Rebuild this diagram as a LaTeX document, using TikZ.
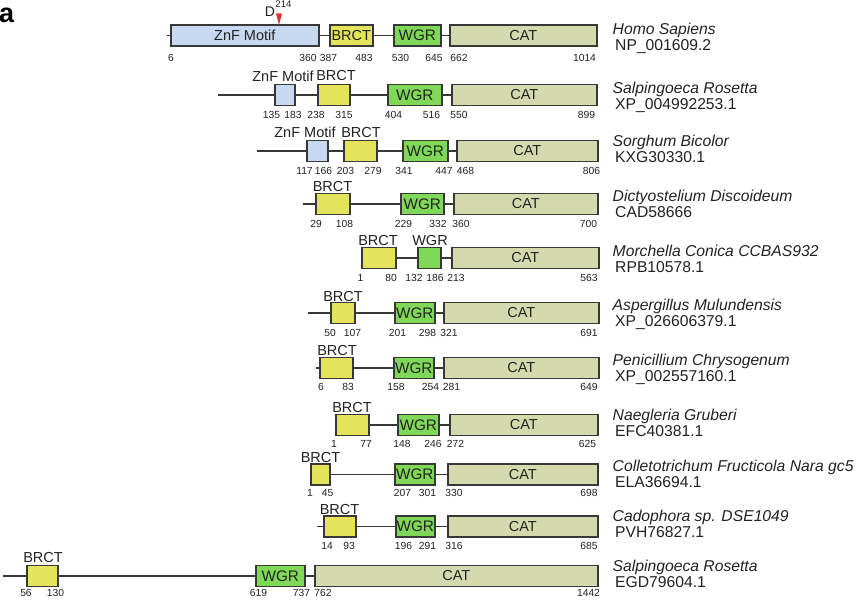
\documentclass[tikz,border=0pt]{standalone}
\usepackage{fontspec}
\setmainfont{Liberation Sans}
\definecolor{bordc}{HTML}{383838}
\definecolor{txt}{HTML}{222222}
\definecolor{znfc}{HTML}{C6D9F1}
\definecolor{brctc}{HTML}{E4E35C}
\definecolor{wgrc}{HTML}{7FD858}
\definecolor{catc}{HTML}{D4DAAE}
\definecolor{markred}{HTML}{E8312F}
\tikzset{
  dom/.style={draw=bordc, line width=1.6pt, inner sep=0pt, minimum height=21pt, anchor=west, text=txt, font=\fontsize{14.5}{16}\selectfont},
  znf/.style={dom, fill=znfc},
  brct/.style={dom, fill=brctc},
  wgr/.style={dom, fill=wgrc, font=\fontsize{15.3}{16}\selectfont},
  cat/.style={dom, fill=catc},
  numlab/.style={font=\fontsize{10.3}{11}\selectfont, text=txt, inner sep=0pt, anchor=center},
  dlab/.style={font=\fontsize{14.5}{16}\selectfont, text=txt, inner sep=0pt, anchor=center},
  splab/.style={font=\fontsize{15.7}{17}\selectfont\itshape, text=txt, inner sep=0pt, anchor=base west},
  acclab/.style={font=\fontsize{15.7}{17}\selectfont, text=txt, inner sep=0pt, anchor=base west},
  conn/.style={draw=bordc, line width=1.5pt},
}
\newcommand\dombox[6]{\node[#2, minimum width={(#4-#3)*1pt}] (#1) at (#3,#5) {#6};}
\newcommand\nlab[4]{\node[numlab] (#1) at (#2,#3) {#4};}
\newcommand\species[5]{\node[splab] (#1n) at (612.5,#3) {#4};\node[acclab] (#1a) at (615,#3+16) {#5};}
\begin{document}
\begin{tikzpicture}[x=1pt,y=-1pt]
\useasboundingbox (0,0) rectangle (860,610);
\node[font=\fontsize{27}{30}\selectfont\bfseries, inner sep=0pt, anchor=base west] (panel) at (-1,22.5) {a};

% ---------- Row 1: Homo sapiens
\coordinate (r1s) at (167,35.5);
\dombox{r1z}{znf}{170}{318}{35.5}{ZnF Motif}
\dombox{r1b}{brct}{329}{372}{35.5}{BRCT}
\dombox{r1w}{wgr}{393}{440}{35.5}{WGR}
\dombox{r1c}{cat}{449}{596}{35.5}{CAT}
\draw[conn] (r1s) -- (r1z.west) (r1z.east) -- (r1b.west) (r1b.east) -- (r1w.west) (r1w.east) -- (r1c.west);
\coordinate (mk) at (279,25);
\fill[markred] (mk) -- ++(-3,-11.5) -- ++(6,0) -- cycle;
\node[dlab, font=\fontsize{14}{15}\selectfont] (mD) at (270,12) {D};
\node[numlab, font=\fontsize{9.6}{10}\selectfont] (m214) at (283.5,4.5) {214};
\nlab{n1a}{171}{58}{6}
\nlab{n1b}{308}{58}{360}
\nlab{n1c}{328.5}{58}{387}
\nlab{n1d}{364}{58}{483}
\nlab{n1e}{400.5}{58}{530}
\nlab{n1f}{434}{58}{645}
\nlab{n1g}{459}{58}{662}
\nlab{n1h}{584.5}{58}{1014}
\species{s1}{}{35}{Homo Sapiens}{NP\_001609.2}

% ---------- Row 2
\coordinate (r2s) at (218,95);
\dombox{r2z}{znf}{274}{294}{95}{}
\dombox{r2b}{brct}{317}{349}{95}{}
\dombox{r2w}{wgr}{387}{441}{95}{WGR}
\dombox{r2c}{cat}{451}{596}{95}{CAT}
\draw[conn] (r2s) -- (r2z.west) (r2z.east) -- (r2b.west) (r2b.east) -- (r2w.west) (r2w.east) -- (r2c.west);
\node[dlab] (l2z) at (283,76) {ZnF Motif};
\node[dlab] (l2b) at (336,76) {BRCT};
\nlab{n2a}{271.5}{115}{135}
\nlab{n2b}{293}{115}{183}
\nlab{n2c}{316}{115}{238}
\nlab{n2d}{344}{115}{315}
\nlab{n2e}{393.5}{115}{404}
\nlab{n2f}{431.5}{115}{516}
\nlab{n2g}{459}{115}{550}
\nlab{n2h}{586.5}{115}{899}
\species{s2}{}{93.3}{Salpingoeca Rosetta}{XP\_004992253.1}

% ---------- Row 3
\coordinate (r3s) at (257,151);
\dombox{r3z}{znf}{306}{327}{151}{}
\dombox{r3b}{brct}{343}{376}{151}{}
\dombox{r3w}{wgr}{402}{447}{151}{WGR}
\dombox{r3c}{cat}{456}{597}{151}{CAT}
\draw[conn] (r3s) -- (r3z.west) (r3z.east) -- (r3b.west) (r3b.east) -- (r3w.west) (r3w.east) -- (r3c.west);
\node[dlab] (l3z) at (305,132.5) {ZnF Motif};
\node[dlab] (l3b) at (361,132.5) {BRCT};
\nlab{n3a}{304.5}{171}{117}
\nlab{n3b}{323.5}{171}{166}
\nlab{n3c}{345.5}{171}{203}
\nlab{n3d}{373}{171}{279}
\nlab{n3e}{404}{171}{341}
\nlab{n3f}{444}{171}{447}
\nlab{n3g}{465.5}{171}{468}
\nlab{n3h}{591.5}{171}{806}
\species{s3}{}{146.7}{Sorghum Bicolor}{KXG30330.1}

% ---------- Row 4
\coordinate (r4s) at (303,204);
\dombox{r4b}{brct}{315}{349}{204}{}
\dombox{r4w}{wgr}{400}{443}{204}{WGR}
\dombox{r4c}{cat}{453}{597}{204}{CAT}
\draw[conn] (r4s) -- (r4b.west) (r4b.east) -- (r4w.west) (r4w.east) -- (r4c.west);
\node[dlab] (l4b) at (332.5,187) {BRCT};
\nlab{n4a}{316}{224}{29}
\nlab{n4b}{344.5}{224}{108}
\nlab{n4c}{403.5}{224}{229}
\nlab{n4d}{438}{224}{332}
\nlab{n4e}{461}{224}{360}
\nlab{n4f}{588.5}{224}{700}
\species{s4}{}{201.7}{Dictyostelium Discoideum}{CAD58666}

% ---------- Row 5
\dombox{r5b}{brct}{361}{395}{258}{}
\dombox{r5w}{wgr}{417}{440}{258}{}
\dombox{r5c}{cat}{451}{598}{258}{CAT}
\draw[conn] (r5b.east) -- (r5w.west) (r5w.east) -- (r5c.west);
\node[dlab] (l5b) at (378,240.5) {BRCT};
\node[dlab] (l5w) at (430,240.5) {WGR};
\nlab{n5a}{360.5}{277.5}{1}
\nlab{n5b}{391}{277.5}{80}
\nlab{n5c}{414}{277.5}{132}
\nlab{n5d}{435}{277.5}{186}
\nlab{n5e}{456}{277.5}{213}
\nlab{n5f}{589}{277.5}{563}
\species{s5}{}{256.7}{Morchella Conica CCBAS932}{RPB10578.1}

% ---------- Row 6
\coordinate (r6s) at (308,313);
\dombox{r6b}{brct}{330}{354}{313}{}
\dombox{r6w}{wgr}{394}{434}{313}{WGR}
\dombox{r6c}{cat}{443}{598}{313}{CAT}
\draw[conn] (r6s) -- (r6b.west) (r6b.east) -- (r6w.west) (r6w.east) -- (r6c.west);
\node[dlab] (l6b) at (343,297) {BRCT};
\nlab{n6a}{330}{332.5}{50}
\nlab{n6b}{352.5}{332.5}{107}
\nlab{n6c}{397.5}{332.5}{201}
\nlab{n6d}{427.5}{332.5}{298}
\nlab{n6e}{449}{332.5}{321}
\nlab{n6f}{589}{332.5}{691}
\species{s6}{}{310.7}{Aspergillus Mulundensis}{XP\_026606379.1}

% ---------- Row 7
\coordinate (r7s) at (316,368);
\dombox{r7b}{brct}{319}{352}{368}{}
\dombox{r7w}{wgr}{393}{433}{368}{WGR}
\dombox{r7c}{cat}{443}{598}{368}{CAT}
\draw[conn] (r7s) -- (r7b.west) (r7b.east) -- (r7w.west) (r7w.east) -- (r7c.west);
\node[dlab] (l7b) at (337,351) {BRCT};
\nlab{n7a}{321}{387}{6}
\nlab{n7b}{348}{387}{83}
\nlab{n7c}{396}{387}{158}
\nlab{n7d}{430.5}{387}{254}
\nlab{n7e}{451.5}{387}{281}
\nlab{n7f}{589}{387}{649}
\species{s7}{}{365}{Penicillium Chrysogenum}{XP\_002557160.1}

% ---------- Row 8
\dombox{r8b}{brct}{335}{368}{425}{}
\dombox{r8w}{wgr}{397}{438}{425}{WGR}
\dombox{r8c}{cat}{449}{597}{425}{CAT}
\draw[conn] (r8b.east) -- (r8w.west) (r8w.east) -- (r8c.west);
\node[dlab] (l8b) at (352,407.5) {BRCT};
\nlab{n8a}{334}{443.5}{1}
\nlab{n8b}{366}{443.5}{77}
\nlab{n8c}{402}{443.5}{148}
\nlab{n8d}{433}{443.5}{246}
\nlab{n8e}{455.5}{443.5}{272}
\nlab{n8f}{587.5}{443.5}{625}
\species{s8}{}{420}{Naegleria Gruberi}{EFC40381.1}

% ---------- Row 9
\dombox{r9b}{brct}{310}{329}{474.5}{}
\dombox{r9w}{wgr}{394}{434}{474.5}{WGR}
\dombox{r9c}{cat}{447}{597}{474.5}{CAT}
\draw[conn] (r9b.east) -- (r9w.west) (r9w.east) -- (r9c.west);
\node[dlab] (l9b) at (320.5,458) {BRCT};
\nlab{n9a}{310}{493}{1}
\nlab{n9b}{327.5}{493}{45}
\nlab{n9c}{402.5}{493}{207}
\nlab{n9d}{427.5}{493}{301}
\nlab{n9e}{454}{493}{330}
\nlab{n9f}{589}{493}{698}
\species{s9}{}{471.7}{Colletotrichum Fructicola Nara gc5}{ELA36694.1}

% ---------- Row 10
\coordinate (r10s) at (317,526.5);
\dombox{r10b}{brct}{323}{355}{526.5}{}
\dombox{r10w}{wgr}{395}{434}{526.5}{WGR}
\dombox{r10c}{cat}{447}{597}{526.5}{CAT}
\draw[conn] (r10s) -- (r10b.west) (r10b.east) -- (r10w.west) (r10w.east) -- (r10c.west);
\node[dlab] (l10b) at (339.5,509.5) {BRCT};
\nlab{n10a}{327}{546}{14}
\nlab{n10b}{349}{546}{93}
\nlab{n10c}{403.5}{546}{196}
\nlab{n10d}{427.5}{546}{291}
\nlab{n10e}{454}{546}{316}
\nlab{n10f}{589}{546}{685}
\species{s10}{}{521.7}{Cadophora sp. DSE1049}{PVH76827.1}

% ---------- Row 11
\coordinate (r11s) at (3,576);
\dombox{r11b}{brct}{26}{57}{576}{}
\dombox{r11w}{wgr}{255}{304}{576}{WGR}
\dombox{r11c}{cat}{314}{597}{576}{CAT}
\draw[conn] (r11s) -- (r11b.west) (r11b.east) -- (r11w.west) (r11w.east) -- (r11c.west);
\node[dlab] (l11b) at (43,557.5) {BRCT};
\nlab{n11a}{26}{593}{56}
\nlab{n11b}{55.5}{593}{130}
\nlab{n11c}{258.5}{593}{619}
\nlab{n11d}{301.5}{593}{737}
\nlab{n11e}{323}{593}{762}
\nlab{n11f}{588.5}{593}{1442}
\species{s11}{}{571.7}{Salpingoeca Rosetta}{EGD79604.1}
\end{tikzpicture}
\end{document}
